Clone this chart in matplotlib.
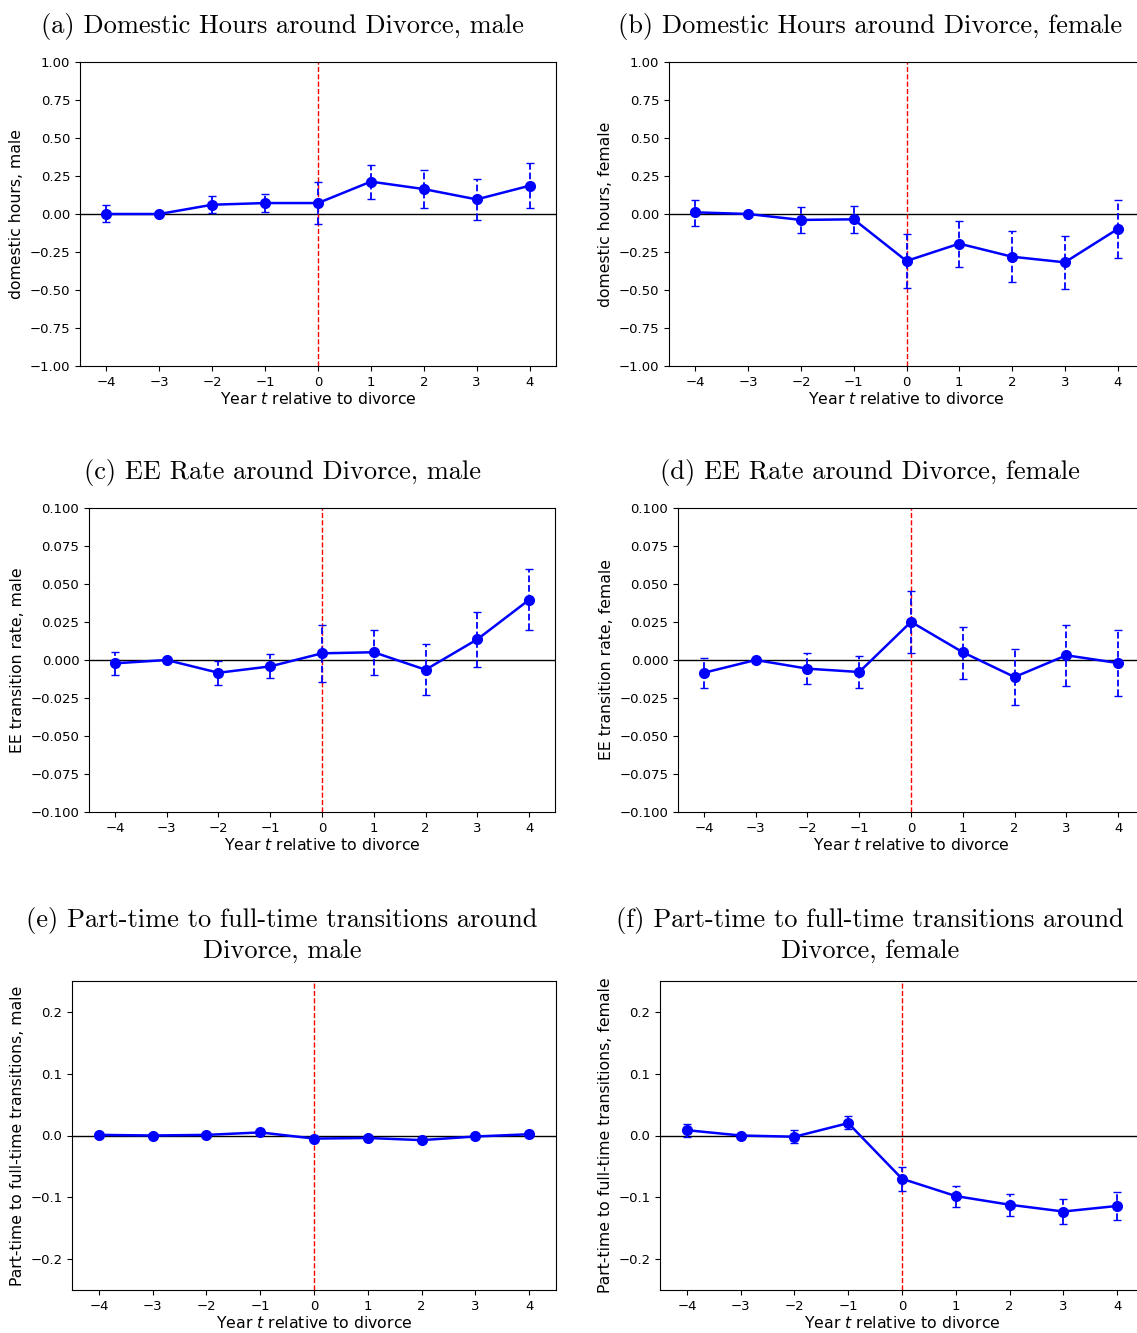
import matplotlib
matplotlib.use('Agg')
import matplotlib.pyplot as plt
import numpy as np

years = [-4, -3, -2, -1, 0, 1, 2, 3, 4]

# (a) domestic hours, male
dom_m = [0.00, 0.00, 0.061, 0.072, 0.072, 0.213, 0.164, 0.096, 0.186]
dom_m_lo = [-0.055, 0.00, 0.004, 0.011, -0.066, 0.100, 0.042, -0.037, 0.037]
dom_m_hi = [0.059, 0.00, 0.118, 0.129, 0.210, 0.325, 0.290, 0.230, 0.333]

# (b) domestic hours, female
dom_f = [0.011, 0.00, -0.039, -0.035, -0.309, -0.195, -0.281, -0.318, -0.099]
dom_f_lo = [-0.081, 0.00, -0.123, -0.123, -0.489, -0.346, -0.447, -0.496, -0.292]
dom_f_hi = [0.092, 0.00, 0.046, 0.053, -0.132, -0.044, -0.114, -0.143, 0.094]

# (c) EE rate, male
ee_m = [-0.0022, 0.0, -0.0084, -0.0042, 0.0044, 0.0051, -0.0064, 0.0136, 0.0396]
ee_m_lo = [-0.0099, 0.0, -0.0163, -0.0121, -0.0145, -0.0097, -0.0231, -0.0046, 0.0196]
ee_m_hi = [0.0053, 0.0, -0.0007, 0.0037, 0.0231, 0.0198, 0.0105, 0.0319, 0.0598]

# (d) EE rate, female
ee_f = [-0.0084, 0.0, -0.0057, -0.0079, 0.0251, 0.0051, -0.0112, 0.0031, -0.0020]
ee_f_lo = [-0.0187, 0.0, -0.0160, -0.0182, 0.0048, -0.0123, -0.0299, -0.0169, -0.0235]
ee_f_hi = [0.0015, 0.0, 0.0044, 0.0024, 0.0453, 0.0220, 0.0075, 0.0229, 0.0196]

# (e) part-time to full-time, male
pt_m = [0.001, 0.000, 0.001, 0.005, -0.005, -0.004, -0.0075, -0.0016, 0.002]
pt_m_lo = [-0.001, 0.000, -0.001, 0.002, -0.008, -0.007, -0.0115, -0.0056, -0.003]
pt_m_hi = [0.003, 0.000, 0.003, 0.008, -0.002, -0.001, -0.0035, 0.0024, 0.007]

# (f) part-time to full-time, female
pt_f = [0.0086, 0.0, -0.002, 0.020, -0.070, -0.098, -0.112, -0.123, -0.114]
pt_f_lo = [-0.002, 0.0, -0.012, 0.010, -0.089, -0.116, -0.131, -0.143, -0.136]
pt_f_hi = [0.018, 0.0, 0.009, 0.031, -0.051, -0.081, -0.094, -0.103, -0.092]

W, H = 1137, 1333
fig = plt.figure(figsize=(W / 100, H / 100), dpi=100)


def add_ax(x0, y0, x1, y1):
    # pixel box (top-left origin) -> figure fraction
    return fig.add_axes([x0 / W, 1 - y1 / H, (x1 - x0) / W, (y1 - y0) / H])


def panel(ax, y, lo, hi, ylim, yticks, fmt, ylabel):
    y = np.array(y)
    err = [y - np.array(lo), np.array(hi) - y]
    ax.axhline(0, color='black', lw=1)
    ax.axvline(0, color='red', ls='--', lw=1)
    eb = ax.errorbar(years, y, yerr=err, fmt='-o', color='blue', lw=1.8,
                     markersize=7, capsize=3, elinewidth=1.3)
    eb[-1][0].set_linestyle('--')
    ax.set_xlim(-4.5, 4.5)
    ax.set_xticks(years)
    ax.set_ylim(*ylim)
    ax.set_yticks(yticks)
    ax.set_yticklabels([fmt.format(v).replace('-', '\u2212') for v in yticks])
    ax.tick_params(labelsize=9.5)
    ax.set_xlabel('Year $t$ relative to divorce', fontsize=11.3, labelpad=2)
    ax.set_ylabel(ylabel, fontsize=11.3)


tfont = dict(family='cmr10', fontsize=19, ha='center', va='center')

ax = add_ax(80, 62, 556, 366)
panel(ax, dom_m, dom_m_lo, dom_m_hi, (-1, 1), np.linspace(-1, 1, 9), '{:.2f}', 'domestic hours, male')
fig.text(282 / W, 1 - 26 / H, '(a) Domestic Hours around Divorce, male', **tfont)

ax = add_ax(669, 62, 1144, 366)
panel(ax, dom_f, dom_f_lo, dom_f_hi, (-1, 1), np.linspace(-1, 1, 9), '{:.2f}', 'domestic hours, female')
fig.text(870 / W, 1 - 26 / H, '(b) Domestic Hours around Divorce, female', **tfont)

ax = add_ax(89, 508, 555, 812)
panel(ax, ee_m, ee_m_lo, ee_m_hi, (-0.1, 0.1), np.linspace(-0.1, 0.1, 9), '{:.3f}', 'EE transition rate, male')
fig.text(282 / W, 1 - 472 / H, '(c) EE Rate around Divorce, male', **tfont)

ax = add_ax(678, 508, 1144, 812)
panel(ax, ee_f, ee_f_lo, ee_f_hi, (-0.1, 0.1), np.linspace(-0.1, 0.1, 9), '{:.3f}', 'EE transition rate, female')
fig.text(870 / W, 1 - 472 / H, '(d) EE Rate around Divorce, female', **tfont)

ax = add_ax(72, 981, 556, 1290)
panel(ax, pt_m, pt_m_lo, pt_m_hi, (-0.25, 0.25), [-0.2, -0.1, 0.0, 0.1, 0.2], '{:.1f}',
      'Part-time to full-time transitions, male')
fig.text(282 / W, 1 - 935 / H, '(e) Part-time to full-time transitions around\nDivorce, male',
         linespacing=1.32, **tfont)

ax = add_ax(660, 981, 1144, 1290)
panel(ax, pt_f, pt_f_lo, pt_f_hi, (-0.25, 0.25), [-0.2, -0.1, 0.0, 0.1, 0.2], '{:.1f}',
      'Part-time to full-time transitions, female')
fig.text(870 / W, 1 - 935 / H, '(f) Part-time to full-time transitions around\nDivorce, female',
         linespacing=1.32, **tfont)

plt.savefig('out.png', dpi=100)
